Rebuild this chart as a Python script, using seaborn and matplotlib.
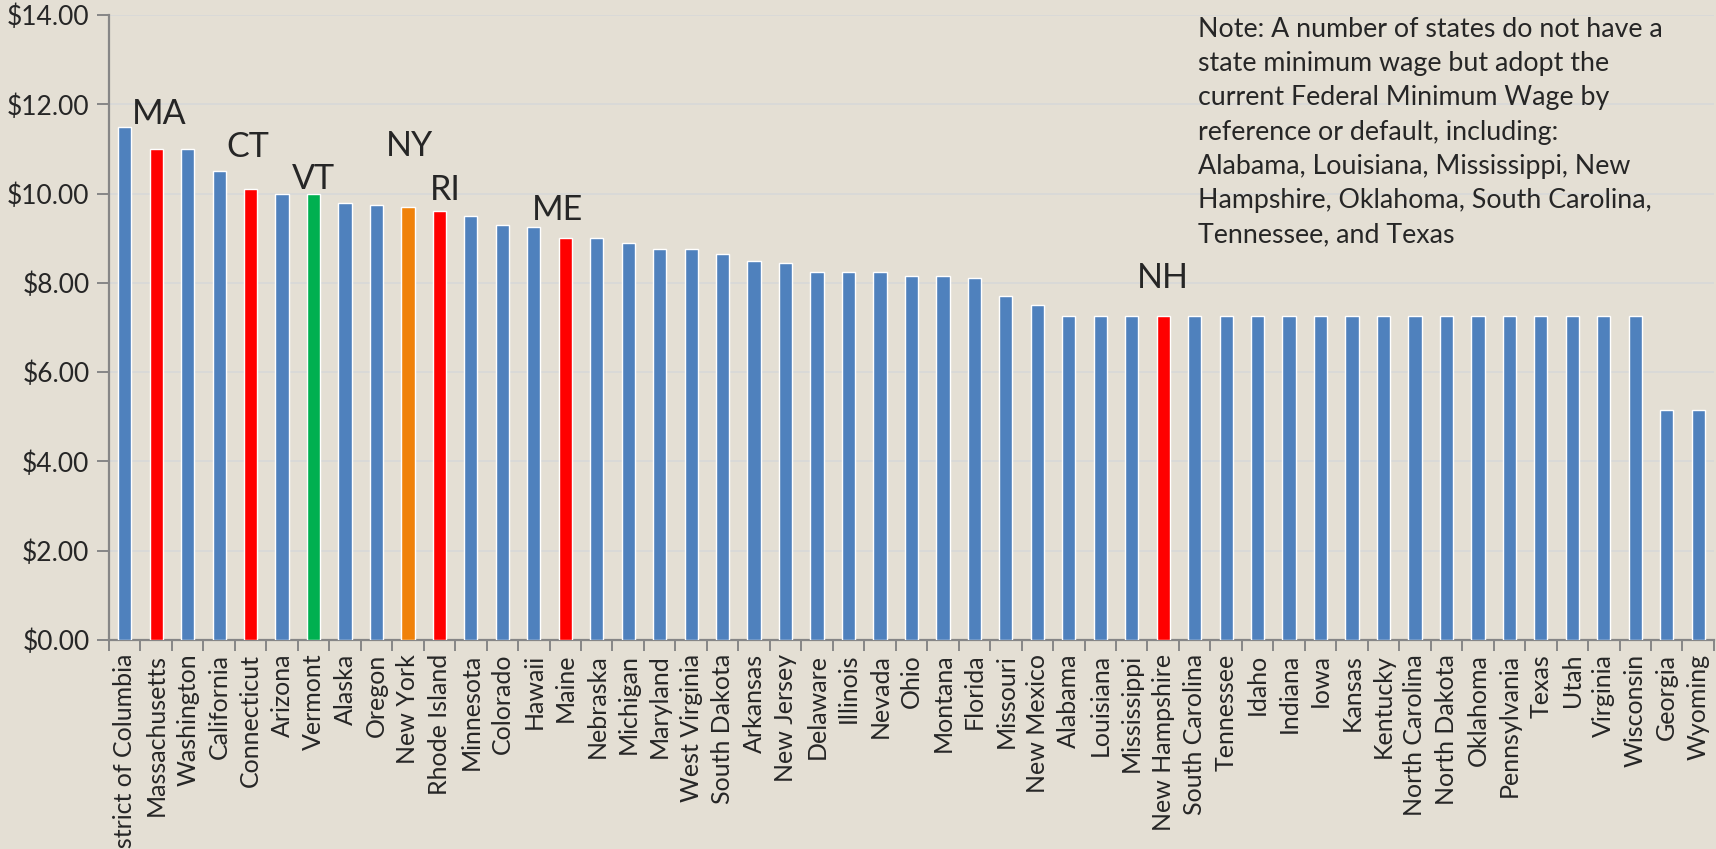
import matplotlib
matplotlib.use("Agg")
import matplotlib.pyplot as plt
from matplotlib.ticker import FuncFormatter, MultipleLocator
import numpy as np
import seaborn as sns

states = ["District of Columbia", "Massachusetts", "Washington", "California", "Connecticut",
          "Arizona", "Vermont", "Alaska", "Oregon", "New York", "Rhode Island", "Minnesota",
          "Colorado", "Hawaii", "Maine", "Nebraska", "Michigan", "Maryland", "West Virginia",
          "South Dakota", "Arkansas", "New Jersey", "Delaware", "Illinois", "Nevada", "Ohio",
          "Montana", "Florida", "Missouri", "New Mexico", "Alabama", "Louisiana", "Mississippi",
          "New Hampshire", "South Carolina", "Tennessee", "Idaho", "Indiana", "Iowa", "Kansas",
          "Kentucky", "North Carolina", "North Dakota", "Oklahoma", "Pennsylvania", "Texas",
          "Utah", "Virginia", "Wisconsin", "Georgia", "Wyoming"]
wages = [11.50, 11.00, 11.00, 10.50, 10.10, 10.00, 10.00, 9.80, 9.75, 9.70, 9.60, 9.50,
         9.30, 9.25, 9.00, 9.00, 8.90, 8.75, 8.75, 8.65, 8.50, 8.44, 8.25, 8.25, 8.25, 8.15,
         8.15, 8.10, 7.70, 7.50, 7.25, 7.25, 7.25, 7.25, 7.25, 7.25, 7.25, 7.25, 7.25, 7.25,
         7.25, 7.25, 7.25, 7.25, 7.25, 7.25, 7.25, 7.25, 7.25, 5.15, 5.15]

# highlighted New England states and their colours
highlight = {"Massachusetts": "#FF0000", "Connecticut": "#FF0000", "Rhode Island": "#FF0000",
             "Maine": "#FF0000", "New Hampshire": "#FF0000", "Vermont": "#00B050",
             "New York": "#F0820A"}
base_color = "#4F81BD"

# abbreviation labels: state, abbreviation, offset above bar, x shift
labels = [("Massachusetts", "MA", 0.78, 0.10), ("Connecticut", "CT", 0.94, -0.10),
          ("Vermont", "VT", 0.32, 0.0), ("New York", "NY", 1.37, 0.06),
          ("Rhode Island", "RI", 0.47, 0.20), ("Maine", "ME", 0.64, -0.25),
          ("New Hampshire", "NH", 0.86, 0.0)]

note = ("Note: A number of states do not have a\n"
        "state minimum wage but adopt the\n"
        "current Federal Minimum Wage by\n"
        "reference or default, including:\n"
        "Alabama, Louisiana, Mississippi, New\n"
        "Hampshire, Oklahoma, South Carolina,\n"
        "Tennessee, and Texas")

bg = "#E4DFD4"
sns.set_style("white")
plt.rcParams["font.family"] = ["Lato", "DejaVu Sans"]

fig = plt.figure(figsize=(17.16, 8.49), dpi=100, facecolor=bg)
ax = fig.add_axes([0.0635, 0.2462, 0.9353, 0.7361])
ax.set_facecolor(bg)

palette = [highlight.get(s, base_color) for s in states]
sns.barplot(x=states, y=wages, hue=states, palette=palette, legend=False,
            width=0.42, saturation=1, ax=ax, zorder=3)

ax.set_ylim(0, 14)
ax.set_xlim(-0.5, len(states) - 0.5)
ax.yaxis.set_major_locator(MultipleLocator(2))
ax.yaxis.set_major_formatter(FuncFormatter(lambda v, p: f"${v:.2f}"))
ax.grid(axis="y", color="#D7D8D8", linewidth=1.2, zorder=0)
ax.set_axisbelow(True)

for side in ["top", "right"]:
    ax.spines[side].set_visible(False)
for side in ["left", "bottom"]:
    ax.spines[side].set_color("#868686")
    ax.spines[side].set_linewidth(1.6)

ax.tick_params(axis="y", labelsize=19, length=9, width=1.4, color="#868686", pad=5,
               left=True)
ax.tick_params(axis="x", which="major", length=0, labelsize=18, rotation=90, pad=10)
ax.set_xticks(np.arange(-0.5, len(states), 1), minor=True)
ax.tick_params(axis="x", which="minor", length=8, width=1.4, color="#868686", bottom=True)
for t in ax.get_xticklabels():
    t.set_va("top")
ax.set_xlabel("")
ax.set_ylabel("")

for state, abbr, dy, dx in labels:
    i = states.index(state)
    ax.text(i + dx, wages[i] + dy, abbr, ha="center", va="center", fontsize=24.5, zorder=4)

ax.text(0.6785, 0.997, note, transform=ax.transAxes, ha="left", va="top",
        fontsize=19.3, linespacing=1.46, zorder=4)

fig.savefig("out.png", dpi=100, facecolor=bg)
